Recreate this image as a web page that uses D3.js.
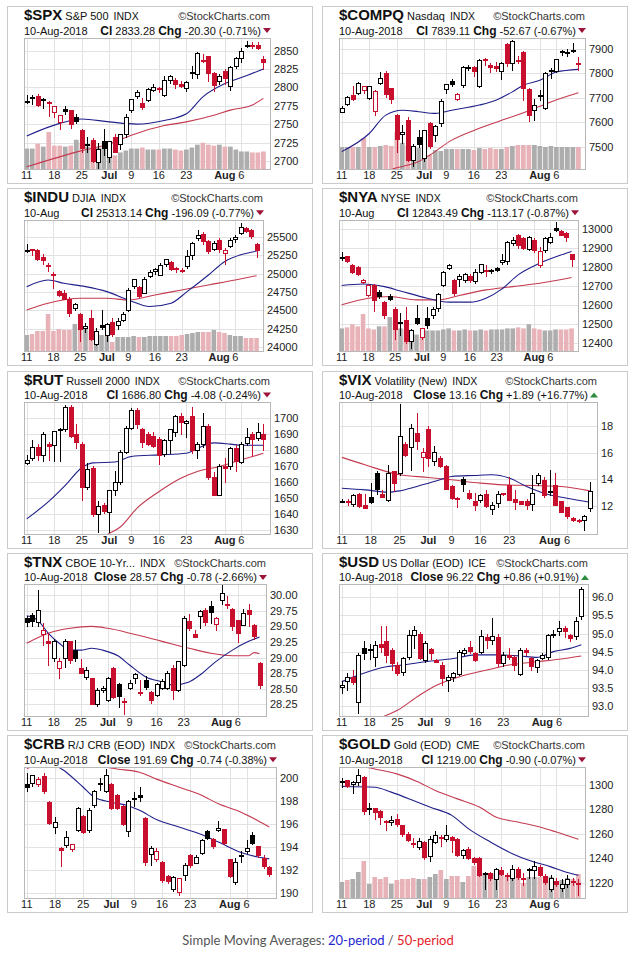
<!DOCTYPE html>
<html>
<head>
<meta charset="utf-8">
<script src="https://cdn.jsdelivr.net/npm/d3@7"></script>
<style>
  body { margin: 0; background: #fff; }
  text { font-family: Arial, "Liberation Sans", sans-serif; }
</style>
</head>
<body>
<svg id="chart"></svg>
<script>
// trading days 11-Jun-2018 .. 10-Aug-2018 (44 sessions), label index -> text
var dayLabels = ["11", "18", "25", "Jul", "9", "16", "23", "Aug", "6"];
var dayLabelIdx = [0, 5, 10, 15, 19, 24, 29, 36, 39];

// [open, high, low, close]
var spxOHLC = [[2780,2790,2779,2782],[2785,2789,2777,2787],[2788,2791,2774,2776],[2784,2786,2772,2782],[2778,2781,2761,2780],
  [2766,2774,2759,2774],[2753,2763,2743,2763],[2770,2775,2764,2767],[2769,2769,2745,2750],[2760,2764,2752,2755],
  [2742,2743,2712,2717],[2722,2732,2712,2723],[2728,2731,2698,2700],[2698,2724,2691,2716],[2727,2743,2708,2718],
  [2705,2727,2698,2727],[2733,2736,2712,2713],[2724,2737,2716,2737],[2737,2764,2733,2760],[2769,2784,2767,2784],
  [2788,2796,2786,2794],[2779,2785,2770,2774],[2783,2799,2781,2798],[2797,2804,2795,2801],[2799,2801,2793,2798],
  [2789,2815,2788,2810],[2811,2817,2806,2816],[2810,2812,2799,2804],[2805,2808,2801,2802],[2799,2809,2795,2807],
  [2821,2829,2812,2820],[2817,2848,2812,2846],[2836,2845,2835,2837],[2842,2843,2808,2819],[2819,2821,2795,2803],
  [2809,2818,2805,2816],[2822,2825,2805,2813],[2801,2829,2796,2827],[2829,2841,2826,2840],[2840,2853,2835,2850],
  [2856,2863,2855,2858],[2856,2862,2853,2857.7],[2858,2862,2852,2853.6],[2838,2842,2825,2833.3]];
var spxVol = [21,21,26,23,38,24,24,23,24,30,27,23,27,22,22,20,14,17,19,21,21,22,20,20,20,21,21,20,19,20,22,25,27,25,24,25,23,23,20,18,18,17,17,18];
var spxMA20 = [[0,2734],[6,2751],[10,2757],[15,2753],[20,2750],[25,2755],[29,2764],[32,2787],[36,2805],[40,2816],[43,2825]];
var spxMA50 = [[0,2692],[10,2714],[15,2723],[19,2735],[25,2748],[29,2753],[34,2762],[37,2769],[41,2776],[43,2785]];
var spxTicks = [2700,2725,2750,2775,2800,2825,2850];

var compqOHLC = [[7645,7665,7640,7660],[7675,7706,7670,7704],[7712,7747,7690,7696],[7720,7765,7716,7761],[7730,7750,7720,7746],
  [7700,7750,7695,7747],[7645,7730,7630,7726],[7762,7805,7755,7781],[7800,7810,7705,7713],[7738,7740,7680,7693],
  [7630,7635,7480,7532],[7555,7590,7515,7562],[7610,7620,7440,7445],[7445,7512,7420,7504],[7540,7570,7500,7510],
  [7452,7570,7440,7568],[7595,7600,7495,7503],[7550,7590,7525,7586],[7598,7695,7585,7688],[7735,7758,7720,7756],
  [7770,7775,7750,7759],[7695,7720,7690,7717],[7750,7828,7745,7824],[7824,7835,7815,7826],[7824,7828,7790,7806],
  [7750,7860,7745,7855],[7858,7862,7835,7854],[7832,7840,7805,7825],[7830,7845,7810,7820],[7810,7845,7775,7842],
  [7920,7925,7830,7841],[7842,7934,7815,7932],[7855,7870,7840,7852],[7885,7890,7690,7737],[7735,7740,7605,7630],
  [7650,7695,7610,7672],[7710,7730,7690,7707],[7660,7805,7655,7803],[7815,7820,7780,7812],[7810,7860,7805,7860],
  [7889,7895,7875,7884],[7883,7900,7870,7888],[7893,7925,7885,7892],[7840,7865,7815,7839]];
var compqVol = [22,22,22,22,31,22,22,23,24,23,37,26,23,22,21,20,14,19,18,20,20,20,20,20,19,21,20,21,20,20,22,23,24,24,24,24,23,22,23,22,22,22,22,22];
var compqMA20 = [[0,7480],[5,7554],[8,7629],[11,7649],[14,7643],[17,7636],[20,7649],[25,7670],[28,7690],[31,7724],[33,7751],[36,7771],[39,7805],[43,7816]];
var compqMA50 = [[0,7330],[5,7375],[10,7414],[14,7440],[16,7466],[20,7527],[25,7575],[30,7615],[34,7647],[38,7683],[43,7720]];
var compqTicks = [7500,7600,7700,7800,7900];

var induOHLC = [[25320,25400,25300,25322],[25330,25340,25250,25321],[25320,25340,25190,25201],[25220,25260,25130,25175],[25110,25140,25030,25090],
  [24980,25020,24810,24988],[24760,24770,24690,24700],[24740,24780,24650,24657],[24650,24680,24420,24461],[24520,24600,24500,24581],
  [24450,24460,24080,24252],[24250,24330,24200,24283],[24400,24510,24090,24117],[24045,24260,24030,24216],[24300,24510,24250,24271],
  [24160,24330,24080,24307],[24345,24390,24150,24175],[24300,24400,24250,24357],[24380,24480,24350,24456],[24500,24800,24490,24776],
  [24820,24930,24800,24920],[24820,24830,24680,24700],[24740,24950,24730,24924],[24960,25050,24950,25019],[25030,25080,25000,25064],
  [24990,25150,24980,25120],[25130,25200,25100,25199],[25160,25170,25050,25064],[25070,25090,25020,25058],[25050,25080,25020,25044],
  [25100,25320,25080,25241],[25250,25430,25200,25415],[25480,25590,25450,25527],[25540,25560,25400,25451],[25440,25460,25280,25307],
  [25330,25440,25320,25415],[25450,25480,25300,25333],[25290,25350,25130,25327],[25380,25480,25360,25463],[25470,25520,25430,25502],
  [25550,25690,25540,25629],[25620,25630,25560,25583],[25590,25600,25490,25509],[25400,25410,25230,25313]];
var induVol = [16,17,20,20,37,20,22,21,21,27,23,25,20,17,16,15,9,14,14,14,15,14,14,15,15,15,15,15,15,16,17,18,19,19,19,21,19,18,16,15,15,13,13,13];
var induMA20 = [[0,24822],[4,24912],[7,24867],[11,24822],[15,24754],[19,24641],[23,24551],[27,24596],[30,24754],[34,24980],[37,25161],[41,25274],[43,25306]];
var induMA50 = [[0,24505],[4,24596],[10,24664],[15,24664],[19,24641],[24,24709],[29,24777],[34,24845],[39,24912],[43,24971]];
var induTicks = [24000,24250,24500,24750,25000,25250,25500];

var nyaOHLC = [[12850,12882,12840,12852],[12860,12862,12830,12835],[12812,12815,12770,12775],[12804,12806,12760,12765],[12722,12740,12715,12733],
  [12655,12712,12650,12707],[12707,12710,12567,12630],[12672,12680,12640,12651],[12619,12622,12530,12550],[12651,12660,12625,12633],
  [12581,12590,12420,12475],[12505,12560,12440,12510],[12523,12590,12400,12410],[12410,12475,12374,12470],[12532,12600,12500,12505],
  [12430,12482,12420,12479],[12532,12590,12480,12493],[12549,12590,12530,12581],[12584,12665,12570,12658],[12707,12780,12700,12774],
  [12795,12815,12790,12812],[12733,12740,12655,12663],[12740,12765,12700,12756],[12733,12770,12725,12763],[12756,12765,12720,12733],
  [12724,12790,12715,12774],[12774,12820,12770,12816],[12785,12812,12755,12781],[12778,12790,12770,12784],[12795,12800,12780,12786],
  [12832,12870,12815,12840],[12830,12940,12820,12932],[12926,12960,12920,12944],[12970,12975,12900,12918],[12953,12960,12895,12900],
  [12900,12965,12890,12961],[12944,12955,12880,12891],[12812,12905,12803,12888],[12891,12960,12880,12953],[12935,12980,12930,12961],
  [13009,13040,12990,12996],[12994,12998,12970,12975],[12979,12985,12940,12957],[12870,12872,12808,12843]];
var nyaVol = [22,23,26,24,36,22,21,24,24,33,29,22,21,19,16,13,20,20,20,21,22,20,20,21,20,20,21,20,21,21,21,22,22,23,22,26,22,21,20,20,21,21,21,22];
var nyaMA20 = [[0,12704],[4,12712],[8,12698],[11,12675],[16,12637],[20,12616],[24,12616],[27,12637],[30,12686],[33,12760],[37,12821],[41,12865],[43,12884]];
var nyaMA50 = [[0,12602],[5,12637],[9,12646],[14,12628],[18,12628],[22,12651],[27,12681],[32,12698],[37,12716],[43,12746]];
var nyaTicks = [12400,12500,12600,12700,12800,12900,13000];

var rutOHLC = [[1672,1677,1671,1674],[1675,1686,1674,1682],[1682,1684,1674,1677],[1677,1691,1673,1690],[1684,1685,1674,1683],
  [1683,1692,1673,1692],[1693,1694,1673,1693],[1693,1708,1692,1707],[1707,1708,1688,1689],[1690,1696,1681,1685],
  [1684,1685,1649,1657],[1657,1672,1656,1668],[1669,1670,1639,1640],[1640,1648,1629,1645],[1646,1647,1641,1642],
  [1641,1655,1629,1655],[1655,1667,1652,1660],[1660,1680,1659,1679],[1679,1695,1678,1694],[1694,1706,1693,1705],
  [1705,1706,1694,1696],[1693,1694,1682,1685],[1690,1691,1683,1684],[1689,1691,1682,1683],[1687,1688,1671,1677],
  [1677,1687,1676,1686],[1686,1693,1678,1693],[1691,1702,1689,1701],[1701,1703,1690,1697],[1697,1699,1688,1698],
  [1701,1707,1678,1680],[1680,1685,1675,1684],[1684,1703,1682,1695],[1695,1696,1662,1663],[1663,1666,1652,1652],
  [1652,1671,1652,1670],[1670,1675,1660,1669],[1670,1682,1668,1681],[1681,1683,1667,1673],[1673,1685,1672,1684],
  [1684,1694,1683,1688],[1690,1691,1676,1687],[1687,1697,1686,1691],[1690,1696,1680,1687]];
var rutMA20 = [[0,1637],[4,1648],[7,1658],[10,1669],[12,1672],[16,1672.5],[19,1676],[24,1677],[29,1678],[31,1681],[34,1684.5],[37,1683.7],[39,1683],[43,1683]];
var rutMA50 = [[13,1624],[15,1628],[17,1632],[20,1643.6],[24,1654],[28,1662.4],[31,1666.6],[35,1669.7],[39,1673.9],[43,1678]];
var rutTicks = [1630,1640,1650,1660,1670,1680,1690,1700];

var vixOHLC = [[12.35,12.55,12.3,12.4],[12.4,12.5,12.1,12.3],[12.1,12.9,12.0,12.8],[12.9,13.0,11.9,12.0],[12.1,12.9,11.9,11.9],
  [12.7,13.7,12.2,12.3],[14.5,14.6,12.9,13.3],[12.9,13.2,12.7,12.7],[12.5,15.1,12.4,14.5],[14.6,14.6,13.1,13.7],
  [14.5,19.7,14.3,17.3],[16.7,16.8,15.8,15.9],[16.5,18.2,14.7,17.9],[17.5,19.0,16.3,16.9],[15.7,16.4,14.6,16.1],
  [17.8,18.0,15.0,15.6],[15.4,16.5,15.1,16.1],[15.6,15.8,14.9,15.0],[15.0,15.1,13.3,13.3],[13.5,13.6,12.5,12.6],
  [12.6,12.7,11.9,12.5],[14.0,14.2,13.1,13.6],[13.0,13.2,12.5,12.6],[12.4,13.0,11.7,12.1],[12.4,12.9,12.3,12.8],
  [12.9,13.2,11.9,12.0],[11.8,12.3,11.4,12.1],[12.2,13.1,11.9,12.9],[12.96,13.0,12.8,12.85],[13.6,14.2,12.5,12.5],
  [12.5,13.2,11.8,12.3],[12.4,12.4,12.2,12.2],[12.4,12.5,11.8,12.1],[12.2,14.3,11.7,13.0],[13.7,14.5,13.6,14.3],
  [13.97,14.2,12.7,12.84],[13.14,14.7,12.8,13.04],[13.6,14.5,12.1,12.1],[12.4,12.4,11.6,11.6],[11.9,11.9,11.1,11.2],
  [11.07,11.2,10.9,10.95],[10.95,11.0,10.8,10.85],[10.95,11.3,10.2,11.27],[11.88,13.8,11.6,13.16]];
var vixMA20 = [[0,13.34],[4,13.21],[8,13.04],[10,13.14],[13,13.47],[17,13.97],[19,14.22],[23,14.3],[26,14.35],[29,14.1],[32,13.47],[35,12.96],[39,12.58],[43,12.28]];
var vixMA50 = [[0,15.66],[4,15.1],[10,14.35],[15,14.15],[19,13.97],[24,13.72],[28,13.59],[33,13.54],[38,13.47],[43,13.14]];
var vixTicks = [12,14,16,18];

var tnxOHLC = [[29.63,29.66,29.5,29.56],[29.68,29.72,29.5,29.58],[29.58,30.08,29.5,29.77],[29.38,29.56,29.2,29.45],[29.26,29.4,28.88,29.23],
  [28.99,29.3,28.94,29.26],[28.83,29.0,28.68,28.94],[28.99,29.3,28.85,29.27],[29.26,29.27,28.92,28.96],[29.12,29.28,28.94,28.99],
  [28.83,28.98,28.75,28.75],[28.68,28.85,28.65,28.8],[28.67,28.67,28.25,28.25],[28.25,28.52,28.22,28.48],[28.48,28.55,28.45,28.52],
  [28.31,28.69,28.3,28.67],[28.83,28.85,28.35,28.37],[28.58,28.6,28.2,28.38],[28.31,28.35,28.1,28.3],[28.52,28.64,28.5,28.6],
  [28.67,28.76,28.6,28.74],[28.45,28.64,28.4,28.43],[28.64,28.7,28.5,28.52],[28.45,28.47,28.27,28.32],[28.4,28.6,28.38,28.58],
  [28.52,28.65,28.5,28.63],[28.51,28.78,28.5,28.75],[28.83,28.88,28.34,28.48],[28.48,28.95,28.47,28.94],[28.88,29.66,28.86,29.63],
  [29.58,29.7,29.45,29.47],[29.38,29.45,29.33,29.33],[29.66,29.77,29.48,29.74],[29.77,29.8,29.52,29.58],[29.83,29.9,29.55,29.74],
  [29.53,29.65,29.45,29.63],[29.92,30.17,29.86,30.04],[29.86,29.98,29.8,29.85],[29.78,29.8,29.45,29.5],[29.6,29.6,29.25,29.39],
  [29.53,29.78,29.52,29.72],[29.77,29.86,29.5,29.7],[29.53,29.54,29.3,29.35],[28.92,28.93,28.52,28.57]];
var tnxMA20 = [[0,29.67],[2,29.6],[4,29.39],[6,29.23],[8,29.12],[10,29.12],[12,29.15],[14,29.12],[17,29.02],[19,28.88],[22,28.69],[25,28.61],[27,28.56],[30,28.61],[32,28.72],[35,28.94],[38,29.12],[41,29.26],[43,29.33]];
var tnxMA50 = [[0,29.23],[4,29.39],[8,29.47],[12,29.5],[15,29.47],[20,29.37],[25,29.26],[30,29.15],[34,29.07],[38,29.03],[41,29.03],[42,29.08],[43,29.06]];
var tnxTicks = [28.25,28.5,28.75,29,29.25,29.5,29.75,30];

var usdOHLC = [[93.51,93.7,93.35,93.57],[93.69,93.9,93.45,93.8],[93.8,94.0,93.6,93.67],[93.11,94.45,92.8,94.41],[94.59,94.8,94.3,94.44],
  [94.57,94.7,94.3,94.55],[94.36,94.8,94.1,94.69],[94.71,95.2,94.5,94.64],[94.8,95.2,94.2,94.41],[94.55,94.6,94.0,94.18],
  [94.13,94.2,93.85,93.9],[93.92,94.35,93.85,94.31],[94.34,95.1,94.3,94.96],[94.96,95.2,94.6,95.1],[95.0,95.05,94.3,94.34],
  [94.29,94.8,94.2,94.75],[94.56,94.6,94.3,94.44],[94.27,94.3,94.2,94.22],[94.13,94.2,93.58,93.76],[93.71,93.85,93.4,93.8],
  [93.8,93.95,93.7,93.9],[93.9,94.55,93.85,94.5],[94.47,94.6,94.4,94.55],[94.62,94.8,94.45,94.5],[94.47,94.5,94.25,94.29],
  [94.5,95.1,94.45,94.94],[94.9,95.0,94.6,94.82],[94.82,95.43,94.7,94.94],[94.9,95.0,94.1,94.18],[94.18,94.5,94.1,94.41],
  [94.41,94.6,94.3,94.36],[94.36,94.4,94.0,94.13],[93.9,94.6,93.85,94.55],[94.55,94.6,94.4,94.5],[94.31,94.35,94.0,94.08],
  [94.08,94.3,93.95,94.27],[94.34,94.45,94.3,94.41],[94.36,95.0,94.3,94.96],[95.0,95.1,94.9,94.96],[95.06,95.35,94.95,95.15],
  [95.15,95.2,94.9,95.06],[94.96,95.0,94.8,94.87],[94.94,95.45,94.85,95.36],[95.47,96.3,95.4,96.22]];
var usdMA20 = [[0,93.67],[3,93.85],[8,94.08],[11,94.13],[15,94.22],[20,94.31],[24,94.41],[28,94.41],[32,94.38],[35,94.34],[38,94.5],[41,94.59],[43,94.69]];
var usdMA50 = [[6,92.6],[8,92.74],[10,92.88],[14,93.3],[17,93.57],[21,93.8],[26,93.99],[30,94.13],[35,94.22],[39,94.29],[43,94.38]];
var usdTicks = [93, 93.5, 94, 94.5, 95, 95.5, 96];

var crbOHLC = [[199.5,200.4,198.9,199.2],[199.57,200.3,199.3,200.26],[199.5,200.1,199.3,199.9],[200.2,200.4,198.7,198.9],[197.96,198.0,196.0,196.12],
  [195.8,196.6,195.2,196.2],[193.9,194.0,192.4,193.74],[194.2,195.4,194.0,194.9],[193.9,194.3,193.7,194.3],[195.5,197.5,195.4,197.4],
  [196.75,196.8,195.2,195.4],[195.5,197.4,195.3,197.2],[197.7,199.0,197.5,198.9],[199.6,200.0,199.0,199.5],[198.9,200.8,198.8,200.26],
  [199.5,199.6,197.3,197.4],[198.5,198.6,197.3,197.35],[197.6,197.7,195.9,196.0],[195.4,198.1,195.0,198.0],[198.2,198.8,197.6,198.25],
  [198.5,199.2,198.0,198.3],[196.5,196.6,192.5,192.7],[193.4,194.1,192.5,193.9],[193.0,193.9,192.8,193.7],[192.7,192.8,191.0,191.1],
  [191.5,191.6,190.9,191.06],[190.4,191.5,190.2,191.4],[190.1,191.3,189.9,191.3],[191.6,192.6,191.2,192.5],[193.3,193.4,192.3,192.4],
  [192.7,193.3,192.6,193.2],[193.5,194.7,193.4,194.6],[195.4,195.5,194.7,194.8],[194.7,194.8,193.9,194.1],[195.5,196.3,195.4,195.7],
  [195.6,195.6,194.3,194.4],[193.0,193.0,191.4,191.5],[191.0,193.1,190.8,192.7],[193.3,193.7,192.7,193.35],[193.6,194.6,193.5,193.9],
  [195.1,195.3,194.3,194.4],[194.1,194.1,193.2,193.3],[193.1,193.3,192.2,192.43],[192.3,192.4,191.5,191.69]];
var crbMA20 = [[4,201.8],[5,201.2],[7,200.5],[10,199.2],[12,198.33],[15,197.9],[18,197.6],[20,197.2],[23,196.4],[27,195.75],[31,195.1],[34,194.45],[38,193.55],[41,193.16],[43,193.0]];
var crbMA50 = [[0,200.83],[2,201.06],[7,201.2],[13,201.0],[16,200.78],[20,200.5],[23,199.9],[27,199.2],[31,198.5],[34,197.76],[38,197.04],[41,196.3],[43,195.75]];
var crbTicks = [190,192,194,196,198,200];

var goldOHLC = [[1302,1305,1298,1302.7],[1303.8,1304,1298,1299.2],[1300,1303,1293,1301.9],[1302.4,1313,1300,1307.9],[1306,1307,1276,1278],
  [1280.5,1285,1276,1280.2],[1280.8,1281,1272,1277.5],[1278,1279,1268,1273.4],[1270.3,1271,1263,1270],[1268.8,1274,1267,1270.7],
  [1272,1276,1266,1268],[1266.7,1267,1258,1259],[1260,1261,1254,1255.3],[1252,1256,1249,1251.8],[1249,1256,1247,1253.7],
  [1253,1254,1239.5,1241],[1242.3,1258,1238,1255.8],[1253,1262,1252,1258.5],[1257,1259,1250,1256.4],[1255.8,1267,1254,1259],
  [1257.2,1258,1245,1254.5],[1255.8,1256,1242,1242.8],[1242.3,1247,1240,1246.3],[1247.7,1249,1239,1240],[1240,1241,1235,1236.9],
  [1240,1241,1225,1226],[1227.5,1229,1215,1227.4],[1227.4,1229,1222,1223.3],[1223.3,1232,1215,1231.4],[1230,1233,1226,1226.6],
  [1225.8,1228,1222,1225.5],[1223.8,1234,1222,1231.4],[1231.4,1233,1223,1224.7],[1223.5,1228,1218,1223.3],[1231,1232,1224,1231.4],
  [1230,1238,1224,1233.6],[1232.8,1234,1225,1226],[1225.5,1227,1219,1220.6],[1215.2,1226,1213,1223.8],[1221.1,1224,1217,1218.4],
  [1215.7,1223,1213,1219.2],[1219.2,1226,1216,1223.3],[1221,1224,1218,1219.9],[1219.5,1223,1210,1219]];
var goldVol = [16,18,19,26,37,14,21,19,21,14,18,19,19,20,19,19,21,24,28,19,22,22,16,22,32,29,25,22,25,25,22,21,22,15,21,21,21,19,21,16,18,20,19,24];
var goldMA20 = [[0,1298.4],[6,1297.8],[9,1293.8],[13,1287],[16,1281.6],[20,1274.8],[23,1264],[27,1253.1],[31,1243.6],[34,1238.2],[38,1232.8],[41,1228.2],[43,1226]];
var goldMA50 = [[0,1318],[2,1316],[6,1312.7],[10,1308.7],[14,1301.9],[17,1295.1],[21,1288.3],[25,1281.6],[28,1273.4],[32,1269.4],[36,1265.3],[39,1261.2],[43,1255.3]];
var goldTicks = [1220,1240,1260,1280,1300];

var panels = [
  {sym:"$SPX", name:"S&P 500", exch:"INDX", date:"10-Aug-2018", clLabel:"Cl", cl:"2833.28", chg:"-20.30 (-0.71%)", up:false, ohlc:spxOHLC, vol:spxVol, ma20:spxMA20, ma50:spxMA50, ticks:spxTicks, fmt:"d", domain:[2689,2867]},
  {sym:"$COMPQ", name:"Nasdaq", exch:"INDX", date:"10-Aug-2018", clLabel:"Cl", cl:"7839.11", chg:"-52.67 (-0.67%)", up:false, ohlc:compqOHLC, vol:compqVol, ma20:compqMA20, ma50:compqMA50, ticks:compqTicks, fmt:"d", domain:[7409,7944]},
  {sym:"$INDU", name:"DJIA", exch:"INDX", date:"10-Aug", clLabel:"Cl", cl:"25313.14", chg:"-196.09 (-0.77%)", up:false, ohlc:induOHLC, vol:induVol, ma20:induMA20, ma50:induMA50, ticks:induTicks, fmt:"d", domain:[23946,25729]},
  {sym:"$NYA", name:"NYSE", exch:"INDX", date:"10-Aug", clLabel:"Cl", cl:"12843.49", chg:"-113.17 (-0.87%)", up:false, ohlc:nyaOHLC, vol:nyaVol, ma20:nyaMA20, ma50:nyaMA50, ticks:nyaTicks, fmt:"d", domain:[12358,13050]},
  {sym:"$RUT", name:"Russell 2000", exch:"INDX", date:"10-Aug-2018", clLabel:"Cl", cl:"1686.80", chg:"-4.08 (-0.24%)", up:false, ohlc:rutOHLC, vol:null, ma20:rutMA20, ma50:rutMA50, ticks:rutTicks, fmt:"d", domain:[1627.6,1710]},
  {sym:"$VIX", name:"Volatility (New)", exch:"INDX", date:"10-Aug-2018", clLabel:"Close", cl:"13.16", chg:"+1.89 (+16.77%)", up:true, ohlc:vixOHLC, vol:null, ma20:vixMA20, ma50:vixMA50, ticks:vixTicks, fmt:"d", domain:[9.89,19.83]},
  {sym:"$TNX", name:"CBOE 10-Yr...", exch:"INDX", date:"10-Aug-2018", clLabel:"Close", cl:"28.57", chg:"-0.78 (-2.66%)", up:false, ohlc:tnxOHLC, vol:null, ma20:tnxMA20, ma50:tnxMA50, ticks:tnxTicks, fmt:".2f", domain:[28.063,30.18]},
  {sym:"$USD", name:"US Dollar (EOD)", exch:"ICE", date:"10-Aug-2018", clLabel:"Close", cl:"96.22", chg:"+0.86 (+0.91%)", up:true, ohlc:usdOHLC, vol:null, ma20:usdMA20, ma50:usdMA50, ticks:usdTicks, fmt:".1f", domain:[92.72,96.37]},
  {sym:"$CRB", name:"R/J CRB (EOD)", exch:"INDX", date:"10-Aug-2018", clLabel:"Close", cl:"191.69", chg:"-0.74 (-0.38%)", up:false, ohlc:crbOHLC, vol:null, ma20:crbMA20, ma50:crbMA50, ticks:crbTicks, fmt:"d", domain:[189.61,200.95]},
  {sym:"$GOLD", name:"Gold (EOD)", exch:"CME", date:"10-Aug-2018", clLabel:"Cl", cl:"1219.00", chg:"-0.90 (-0.07%)", up:false, ohlc:goldOHLC, vol:goldVol, ma20:goldMA20, ma50:goldMA50, ticks:goldTicks, fmt:"d", domain:[1207.4,1314.3]}
];

var RED = "#c8102e", BLACK = "#000", MA20C = "#1f1f8a", MA50C = "#c43a50";

var svg = d3.select("#chart").attr("width", 637).attr("height", 956);

panels.forEach(function(p, k) {
  var col = k % 2, row = Math.floor(k / 2);
  var bx = col ? 322 : 7;
  var T = 20 + 182.3 * row;          // baseline of title line
  var g = svg.append("g");

  g.append("rect")
      .attr("x", bx + 0.5).attr("y", Math.round(T - 14) + 0.5)
      .attr("width", 305).attr("height", 177)
      .attr("fill", "#fff").attr("stroke", "#cacaca");

  var fmt = d3.format(p.fmt);
  // width of the price labels decides where the plot ends
  var tmp = g.append("text").style("font-size", "11px");
  var maxW = 0;
  p.ticks.forEach(function(t) { tmp.text(fmt(t)); maxW = Math.max(maxW, tmp.node().getComputedTextLength()); });
  tmp.remove();

  var left = bx + 17, right = Math.round(bx + 306 - 19 - maxW);
  var top = Math.round(T + 17.5), bottom = Math.round(T + 149);
  var x = d3.scaleLinear().domain([-0.5, 44.2]).range([left, right]);
  var y = d3.scaleLinear().domain(p.domain).range([bottom, top]);
  var step = x(1) - x(0);

  var clipId = "clip" + k;
  g.append("clipPath").attr("id", clipId).append("rect")
      .attr("x", left).attr("y", top).attr("width", right - left).attr("height", bottom - top);

  // grid
  g.selectAll(".hg").data(p.ticks).enter().append("line")
      .attr("x1", left).attr("x2", right)
      .attr("y1", function(d) { return Math.round(y(d)) + 0.5; })
      .attr("y2", function(d) { return Math.round(y(d)) + 0.5; })
      .attr("stroke", "#e2e2e2");
  g.selectAll(".vg").data(dayLabelIdx).enter().append("line")
      .attr("x1", function(d) { return Math.round(x(d)) + 0.5; })
      .attr("x2", function(d) { return Math.round(x(d)) + 0.5; })
      .attr("y1", top).attr("y2", bottom)
      .attr("stroke", "#e2e2e2");

  var plot = g.append("g").attr("clip-path", "url(#" + clipId + ")");

  // volume
  if (p.vol) {
    var vy = d3.scaleLinear().domain([0, d3.max(p.vol)]).range([0, 37]);
    plot.selectAll(".vb").data(p.vol).enter().append("rect")
        .attr("x", function(d, i) { return x(i) - step / 2 + 0.4; })
        .attr("width", step - 0.8)
        .attr("y", function(d) { return bottom - vy(d); })
        .attr("height", function(d) { return vy(d); })
        .attr("fill", function(d, i) {
          return (i === 0 || p.ohlc[i][3] >= p.ohlc[i - 1][3]) ? "#adadad" : "#e8b3b8";
        });
  }

  // moving averages
  var line = d3.line().x(function(d) { return x(d[0]); }).y(function(d) { return y(d[1]); }).curve(d3.curveMonotoneX);
  plot.append("path").attr("d", line(p.ma50)).attr("fill", "none").attr("stroke", MA50C).attr("stroke-width", 1.1);
  plot.append("path").attr("d", line(p.ma20)).attr("fill", "none").attr("stroke", MA20C).attr("stroke-width", 1.1);

  // candles
  var candles = plot.selectAll(".cd").data(p.ohlc).enter().append("g");
  function colr(d, i) { return (i === 0 || d[3] >= p.ohlc[i - 1][3]) ? BLACK : RED; }
  candles.append("line")
      .attr("x1", function(d, i) { return Math.round(x(i)) + 0.5; })
      .attr("x2", function(d, i) { return Math.round(x(i)) + 0.5; })
      .attr("y1", function(d) { return Math.round(y(d[1])); })
      .attr("y2", function(d) { return Math.round(y(d[2])) + 1; })
      .attr("stroke", colr);
  candles.append("rect")
      .attr("x", function(d, i) { return Math.round(x(i)) - 1.5; })
      .attr("width", 4)
      .attr("y", function(d) { return Math.round(y(Math.max(d[0], d[3]))) + 0.5; })
      .attr("height", function(d) { return Math.max(1, Math.round(Math.abs(y(d[0]) - y(d[3])))); })
      .attr("fill", function(d, i) { return d[3] >= d[0] ? "#fff" : colr(d, i); })
      .attr("stroke", colr);

  // plot frame
  g.append("rect").attr("x", left + 0.5).attr("y", top + 0.5)
      .attr("width", right - left).attr("height", bottom - top)
      .attr("fill", "none").attr("stroke", "#b8b8b8");

  // price labels
  g.selectAll(".yl").data(p.ticks).enter().append("text")
      .attr("x", right + 4).attr("y", function(d) { return y(d) + 4; })
      .style("font-size", "11px").attr("fill", "#222")
      .text(function(d) { return fmt(d); });

  // date labels
  g.selectAll(".xl").data(dayLabels).enter().append("text")
      .attr("x", function(d, i) { return x(dayLabelIdx[i]); })
      .attr("y", T + 159)
      .attr("text-anchor", "middle")
      .style("font-size", "11px")
      .style("font-weight", function(d) { return (d === "Jul" || d === "Aug") ? "bold" : "normal"; })
      .attr("fill", "#222")
      .text(function(d) { return d; });

  // header
  var h1 = g.append("text").attr("x", left).attr("y", T).attr("fill", "#111");
  h1.append("tspan").style("font-size", "15px").style("font-weight", "bold").text(p.sym);
  h1.append("tspan").attr("dx", 3).style("font-size", "11px").text(p.name);
  h1.append("tspan").attr("dx", 5).style("font-size", "10.5px").text(p.exch);
  g.append("text").attr("x", right).attr("y", T).attr("text-anchor", "end")
      .style("font-size", "11px").attr("fill", "#333").text("\u00a9StockCharts.com");

  g.append("text").attr("x", left).attr("y", T + 14.5).style("font-size", "11px").attr("fill", "#111").text(p.date);
  var h2 = g.append("text").attr("x", right - 9).attr("y", T + 14.5).attr("text-anchor", "end")
      .style("font-size", "11px").attr("fill", "#111");
  h2.append("tspan").style("font-weight", "bold").style("font-size", "12px").text(p.clLabel);
  h2.append("tspan").text(" " + p.cl + "  ");
  h2.append("tspan").style("font-weight", "bold").style("font-size", "12px").text("Chg");
  h2.append("tspan").text(" " + p.chg);
  var cx = right - 3, cy = T + 10.5;
  g.append("path")
      .attr("d", p.up
        ? "M" + (cx - 4) + "," + (cy + 2.5) + "L" + (cx + 4) + "," + (cy + 2.5) + "L" + cx + "," + (cy - 2.5) + "Z"
        : "M" + (cx - 4) + "," + (cy - 2.5) + "L" + (cx + 4) + "," + (cy - 2.5) + "L" + cx + "," + (cy + 2.5) + "Z")
      .attr("fill", p.up ? "#2e8b3e" : "#9c1438");
});

// footer legend
var foot = svg.append("text").attr("x", 318).attr("y", 945).attr("text-anchor", "middle")
    .style("font-family", "Lato, 'Open Sans', sans-serif").style("font-size", "13px");
foot.append("tspan").attr("fill", "#555").text("Simple Moving Averages: ");
foot.append("tspan").attr("fill", "#2525d0").text("20-period");
foot.append("tspan").attr("fill", "#555").text(" / ");
foot.append("tspan").attr("fill", "#e5202a").text("50-period");
</script>
</body>
</html>
